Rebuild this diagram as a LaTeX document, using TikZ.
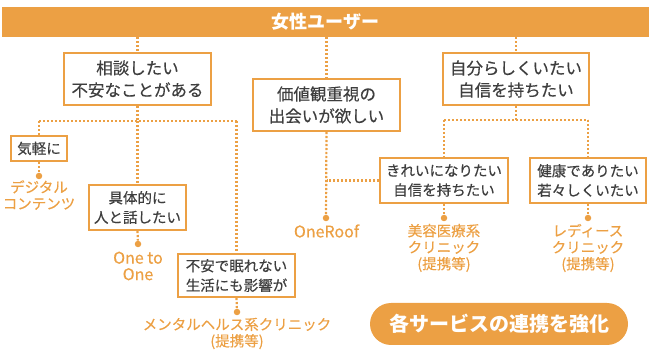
\documentclass[tikz,border=0pt]{standalone}
\usepackage{fontspec}
\setmainfont{Noto Sans CJK JP}
\newfontfamily\heavier[FakeBold=0.35]{Noto Sans CJK JP}
\definecolor{accent}{RGB}{236,160,68}
\definecolor{ink}{RGB}{62,62,62}
\tikzset{
  box/.style={draw=accent, line width=2.4pt, fill=white, text=ink, align=center, inner sep=0pt},
  bigbox/.style={box, minimum height=51.6pt, font=\heavier\fontsize{16.5}{22}\selectfont},
  smallbox/.style={box, font=\heavier\fontsize{14.5}{19.5}\selectfont},
  link/.style={accent, line width=2.2pt, dash pattern=on 2.2pt off 1.8pt},
  pindot/.style={circle, fill=accent, inner sep=0pt, minimum size=6.5pt},
  service/.style={text=accent, align=center, inner sep=0pt, font=\heavier\fontsize{14.5}{16.5}\selectfont},
  latin/.style={service, font=\heavier\fontsize{16}{16.5}\selectfont},
}
\begin{document}
\begin{tikzpicture}[x=1pt, y=-1pt]
  \useasboundingbox (0,0) rectangle (653,352);

  % 女性ユーザー
  \node[fill=accent, text=white, inner sep=0pt, minimum width=647pt, minimum height=30pt,
        font=\fontsize{18}{18}\selectfont\bfseries] (user) at (325.5,22) {女性ユーザー};

  % 三つのニーズ
  \node[bigbox, minimum width=146.6pt] (consult) at (137.5,79) {相談したい\\不安なことがある};
  \node[bigbox, minimum width=146.6pt] (meet) at (326.5,105) {価値観重視の\\出会いが欲しい};
  \node[bigbox, minimum width=145.6pt] (self) at (516,79) {自分らしくいたい\\自信を持ちたい};

  % 細かいニーズ
  \node[smallbox, minimum width=55.6pt, minimum height=24.6pt] (casual) at (39,148.5) {気軽に};
  \node[smallbox, minimum width=96.6pt, minimum height=44.6pt] (talk) at (137.5,207.5) {具体的に\\人と話したい};
  \node[smallbox, minimum width=116.6pt, minimum height=42.6pt] (sleep) at (236.5,275.5) {不安で眠れない\\生活にも影響が};
  \node[smallbox, minimum width=127.6pt, minimum height=44.6pt] (pretty) at (444,180.5) {きれいになりたい\\自信を持ちたい};
  \node[smallbox, minimum width=115.6pt, minimum height=44.6pt] (health) at (588,180.5) {健康でありたい\\若々しくいたい};

  % サービス
  \node[pindot] (d1) at (39,176) {};
  \node[pindot] (d2) at (138,244) {};
  \node[pindot] (d3) at (326,218) {};
  \node[pindot] (d4) at (237,312) {};
  \node[pindot] (d5) at (444,218) {};
  \node[pindot] (d6) at (588,218) {};
  \node[service] (digital) at (39,195) {デジタル\\コンテンツ};
  \node[latin] (onetoone) at (138,266) {One to\\One};
  \node[latin] (oneroof) at (326.5,231) {OneRoof};
  \node[service] (mental) at (237,333.5) {メンタルヘルス系クリニック\\(提携等)};
  \node[service] (beauty) at (444,248) {美容医療系\\クリニック\\(提携等)};
  \node[service] (ladies) at (588,248) {レディース\\クリニック\\(提携等)};

  % 点線のつながり
  \coordinate (b1) at (137.5,121);
  \coordinate (b2) at (516,120);
  \draw[link] (user.south -| consult) -- (consult.north);
  \draw[link] (user.south -| meet) -- (meet.north);
  \draw[link] (user.south -| self) -- (self.north);
  \draw[link] (consult.south) -- (b1);
  \draw[link] (casual.north |- b1) -- (sleep.north |- b1);
  \draw[link] (casual.north |- b1) -- (casual.north);
  \draw[link] (b1) -- (talk.north);
  \draw[link] (sleep.north |- b1) -- (sleep.north);
  \draw[link] (self.south) -- (b2);
  \draw[link] (pretty.north |- b2) -- (health.north |- b2);
  \draw[link] (pretty.north |- b2) -- (pretty.north);
  \draw[link] (health.north |- b2) -- (health.north);
  \draw[link] (meet.south) -- (d3);
  \draw[link] (pretty.west) -- (pretty.west -| meet);
  \draw[link] (casual.south) -- (d1);
  \draw[link] (talk.south) -- (d2);
  \draw[link] (sleep.south) -- (d4);
  \draw[link] (pretty.south) -- (d5);
  \draw[link] (health.south) -- (d6);

  % 各サービスの連携を強化
  \node[fill=accent, text=white, rounded corners=21pt, inner sep=0pt, minimum width=258pt, minimum height=42pt,
        font=\fontsize{20}{20}\selectfont\bfseries] (strong) at (499,324) {各サービスの連携を強化};
\end{tikzpicture}
\end{document}
